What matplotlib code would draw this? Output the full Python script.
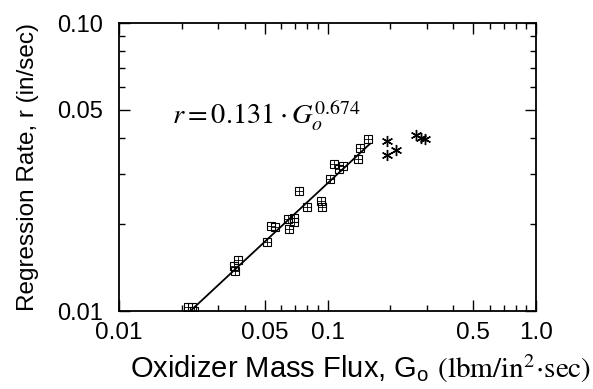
import matplotlib

matplotlib.use("Agg")
import matplotlib.pyplot as plt
import numpy as np
from matplotlib.ticker import FixedLocator, FixedFormatter, NullFormatter

plt.rcParams["font.family"] = ["Liberation Sans", "DejaVu Sans"]
plt.rcParams["mathtext.fontset"] = "stix"

# square markers (measured data)
flux_sq = [0.0215, 0.0225, 0.0230, 0.0355, 0.0361, 0.0373, 0.0513, 0.0537, 0.0561,
           0.0646, 0.0655, 0.0687, 0.0687, 0.0731, 0.0796, 0.0927, 0.0938, 0.1028,
           0.1077, 0.1138, 0.1190, 0.1400, 0.1430, 0.1556]
rate_sq = [0.0103, 0.0103, 0.0100, 0.01435, 0.0138, 0.0150, 0.0174, 0.0198, 0.0195,
           0.0208, 0.0192, 0.0211, 0.0203, 0.0261, 0.0229, 0.0241, 0.0230, 0.0288,
           0.0323, 0.0310, 0.0318, 0.0336, 0.0369, 0.0394]
# asterisk markers
flux_st = [0.1937, 0.1937, 0.2123, 0.2665, 0.2810, 0.2950]
rate_st = [0.0388, 0.0349, 0.0362, 0.0410, 0.0399, 0.0394]

coef = 0.131
expo = 0.674
fit_range = [0.0224, 0.16]

x_major = [0.01, 0.05, 0.1, 0.5, 1.0]
x_labels = ["0.01", "0.05", "0.1", "0.5", "1.0"]
x_minor = [0.02, 0.03, 0.04, 0.06, 0.07, 0.08, 0.09, 0.2, 0.3, 0.4, 0.6, 0.7, 0.8, 0.9]
y_major = [0.01, 0.05, 0.1]
y_labels = ["0.01", "0.05", "0.10"]
y_minor = [0.02, 0.03, 0.04, 0.06, 0.07, 0.08, 0.09]

fig = plt.figure(figsize=(5.93, 3.89), dpi=100)
ax = fig.add_axes([119 / 593, 1 - 311 / 389, (536 - 119) / 593, (311 - 23) / 389])
ax.set_xscale("log")
ax.set_yscale("log")
ax.set_xlim(0.01, 1.0)
ax.set_ylim(0.01, 0.1)

gx = np.array(fit_range)
ax.plot(gx, coef * gx ** expo, color="black", linewidth=1.3)

ax.plot(flux_sq, rate_sq, linestyle="none", marker="s", markersize=5.5,
        markerfacecolor="none", markeredgecolor="black", markeredgewidth=0.8)
ax.plot(flux_sq, rate_sq, linestyle="none", marker="+", markersize=5.5,
        markeredgecolor="black", markeredgewidth=0.6)
ax.plot(flux_st, rate_st, linestyle="none", marker=(6, 2, 0), markersize=8,
        markeredgecolor="black", markeredgewidth=1.0)

ax.text(0.0180, 0.0447, r"$r = 0.131 \cdot G_o^{0.674}$", fontsize=20.5)

ax.xaxis.set_major_locator(FixedLocator(x_major))
ax.xaxis.set_major_formatter(FixedFormatter(x_labels))
ax.xaxis.set_minor_locator(FixedLocator(x_minor))
ax.xaxis.set_minor_formatter(NullFormatter())
ax.yaxis.set_major_locator(FixedLocator(y_major))
ax.yaxis.set_major_formatter(FixedFormatter(y_labels))
ax.yaxis.set_minor_locator(FixedLocator(y_minor))
ax.yaxis.set_minor_formatter(NullFormatter())

ax.tick_params(which="both", direction="in", top=True, right=True, width=1.0)
ax.tick_params(which="major", length=8)
ax.tick_params(axis="x", which="major", pad=8, labelsize=17.5)
ax.tick_params(axis="y", which="major", pad=11.5, labelsize=17)
ax.tick_params(which="minor", length=4.5)
for spine in ax.spines.values():
    spine.set_linewidth(1.3)

ax.set_xlabel(r"Oxidizer Mass Flux, G$_\mathregular{o}$ $\mathrm{(lbm/in^2{\cdot}sec)}$",
              fontsize=21)
ax.xaxis.set_label_coords(0.58, -0.233)
ax.xaxis.label.set_va("baseline")
ax.set_ylabel("Regression Rate, r (in/sec)", fontsize=17.5, labelpad=13)

fig.savefig("out.png", dpi=100)
